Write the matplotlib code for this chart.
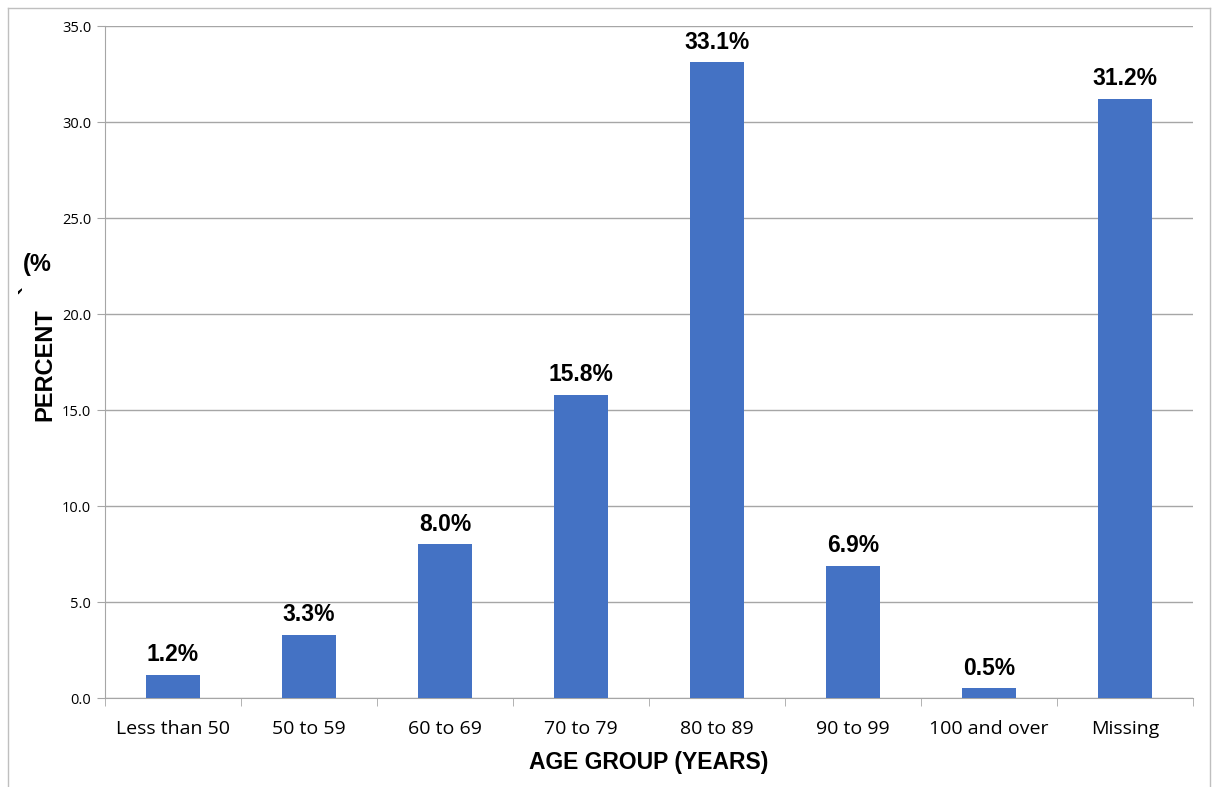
import numpy as np
import matplotlib.pyplot as plt
from matplotlib.lines import Line2D

groups = ['Less than 50', '50 to 59', '60 to 69', '70 to 79', '80 to 89',
          '90 to 99', '100 and over', 'Missing']
percent = [1.2, 3.3, 8.0, 15.8, 33.1, 6.9, 0.5, 31.2]
yticks = [0, 5, 10, 15, 20, 25, 30, 35]

W, H = 1214, 787
fig = plt.figure(figsize=(W / 100, H / 100), dpi=100)
ax = fig.add_axes([105 / W, 1 - 698 / H, (1193 - 105) / W, (698 - 26) / H])

x = np.arange(len(groups))
ax.bar(x, percent, width=0.4, color='#4472C4', zorder=3)
for xi, v in zip(x, percent):
    ax.text(xi, v + 0.45, f'{v:.1f}%', ha='center', va='bottom',
            fontsize=16.5, fontweight='bold', family='Liberation Sans')

ax.set_xlim(-0.5, len(groups) - 0.5)
ax.set_ylim(0, 35)
ax.set_yticks(yticks)
ax.set_yticklabels([f'{t:.1f}' for t in yticks], fontsize=10.5, family='Open Sans')
ax.yaxis.grid(True, color='#a6a6a6', linewidth=1)
ax.set_axisbelow(True)

ax.set_xticks(x)
ax.set_xticklabels(groups, fontsize=14, family='Open Sans')
ax.set_xticks(np.arange(-0.5, len(groups)), minor=True)
ax.tick_params(axis='x', which='major', length=0, pad=16)
ax.tick_params(axis='x', which='minor', length=6, color='#a6a6a6')
ax.tick_params(axis='y', length=6, color='#a6a6a6', pad=4)

for s in ['top', 'right']:
    ax.spines[s].set_visible(False)
for s in ['left', 'bottom']:
    ax.spines[s].set_color('#a6a6a6')

fig.text((105 + 1193) / 2 / W, 1 - 763 / H, 'AGE GROUP (YEARS)', ha='center', va='center',
         fontsize=16.5, fontweight='bold', family='Liberation Sans')
fig.text(45 / W, 1 - 365 / H, 'PERCENT', rotation=90, ha='center', va='center',
         fontsize=17, fontweight='bold', family='Liberation Sans')
fig.text(30 / W, 1 - 290 / H, '`', rotation=90, ha='center', va='center',
         fontsize=17, fontweight='bold', family='Liberation Sans')
fig.text(37 / W, 1 - 265 / H, '(%', ha='center', va='center',
         fontsize=17, fontweight='bold', family='Liberation Sans')

# outer chart border
fig.add_artist(Line2D([8 / W, 8 / W], [0, 1 - 8 / H], color='#bfbfbf', lw=1))
fig.add_artist(Line2D([1210 / W, 1210 / W], [0, 1 - 8 / H], color='#bfbfbf', lw=1))
fig.add_artist(Line2D([8 / W, 1210 / W], [1 - 8 / H, 1 - 8 / H], color='#bfbfbf', lw=1))

fig.savefig('out.png', dpi=100)
